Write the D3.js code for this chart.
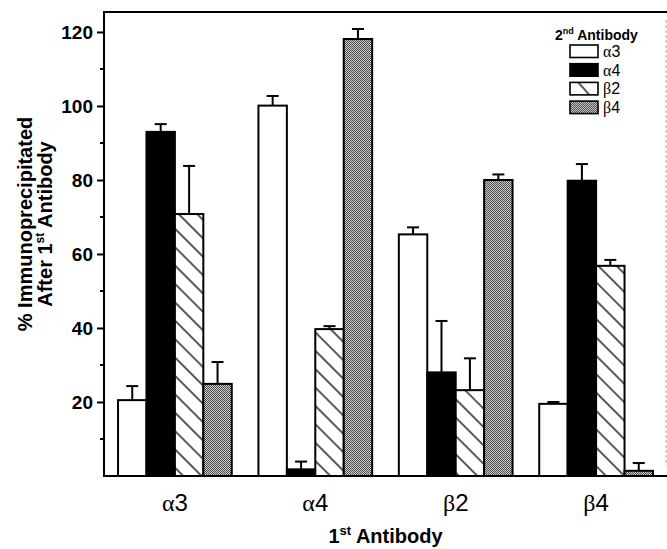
<!DOCTYPE html>
<html>
<head>
<meta charset="utf-8">
<script src="https://cdn.jsdelivr.net/npm/d3@7"></script>
<style>
  body { margin: 0; background: #fff; }
  svg { display: block; font-family: "Liberation Sans", Arial, sans-serif; }
</style>
</head>
<body>
<script>
// 1st antibody (groups) and 2nd antibody (series)
const categories = ["α3", "α4", "β2", "β4"];
const seriesNames = ["α3", "α4", "β2", "β4"];

// % immunoprecipitated, one array per 2nd antibody, in category order
const valuesA3 = [20.5, 100.1, 65.3, 19.5];
const valuesA4 = [93.0, 1.8, 28.0, 79.8];
const valuesB2 = [70.8, 39.7, 23.2, 56.8];
const valuesB4 = [24.9, 118.1, 80.0, 1.4];

// upper error bars
const errorsA3 = [3.8, 2.6, 1.9, 0.5];
const errorsA4 = [2.1, 2.1, 13.9, 4.5];
const errorsB2 = [13.0, 0.8, 8.6, 1.6];
const errorsB4 = [5.9, 2.7, 1.5, 2.1];

const majorTicks = [20, 40, 60, 80, 100, 120];
const minorTicks = [10, 30, 50, 70, 90, 110];

const width = 667,
    height = 549;

const plotLeft = 104, plotRight = 667, plotTop = 12, plotBottom = 476;

const seriesValues = [valuesA3, valuesA4, valuesB2, valuesB4];
const seriesErrors = [errorsA3, errorsA4, errorsB2, errorsB4];
const fills = ["#fff", "#000", "url(#hatch)", "url(#stipple)"];

// flatten into rows for drawing
const rows = [];
categories.forEach((c, i) => {
    seriesNames.forEach((s, j) => {
        rows.push({cat: c, series: s, idx: j, value: seriesValues[j][i], err: seriesErrors[j][i]});
    });
});

const svg = d3.select('body').append('svg')
    .attr('width', width)
    .attr('height', height);

//patterns
const defs = svg.append('defs');
const hatch = defs.append('pattern')
    .attr('id', 'hatch')
    .attr('patternUnits', 'userSpaceOnUse')
    .attr('width', 13)
    .attr('height', 13)
    .attr('patternTransform', 'rotate(-45)');
hatch.append('rect').attr('width', 13).attr('height', 13).attr('fill', '#fff');
hatch.append('line')
    .attr('x1', 1).attr('y1', 0).attr('x2', 1).attr('y2', 13)
    .attr('stroke', '#000').attr('stroke-width', 1.3);

const stipple = defs.append('pattern')
    .attr('id', 'stipple')
    .attr('patternUnits', 'userSpaceOnUse')
    .attr('width', 2)
    .attr('height', 2);
stipple.append('rect').attr('width', 2).attr('height', 2).attr('fill', '#cfcfcf');
stipple.append('rect').attr('x', 0).attr('y', 0).attr('width', 1).attr('height', 1).attr('fill', '#4a4a4a');
stipple.append('rect').attr('x', 1).attr('y', 1).attr('width', 1).attr('height', 1).attr('fill', '#4a4a4a');

const legendHatch = defs.append('pattern')
    .attr('id', 'hatchLegend')
    .attr('patternUnits', 'userSpaceOnUse')
    .attr('width', 15)
    .attr('height', 15)
    .attr('patternTransform', 'translate(572,0) rotate(-42)');
legendHatch.append('rect').attr('width', 15).attr('height', 15).attr('fill', '#fff');
legendHatch.append('line')
    .attr('x1', 1).attr('y1', 0).attr('x2', 1).attr('y2', 15)
    .attr('stroke', '#000').attr('stroke-width', 1.3);

//scales
const x0 = d3.scaleBand()
    .domain(categories)
    .range([plotLeft, plotRight])
    .paddingInner(0.19)
    .paddingOuter(0.1);

const x1 = d3.scaleBand()
    .domain(seriesNames)
    .range([0, x0.bandwidth()]);

const y = d3.scaleLinear()
    .domain([0, 125.4])
    .range([plotBottom, plotTop]);

//bars
svg.append('g').selectAll('rect')
    .data(rows)
    .enter()
    .append('rect')
    .attr('x', d => x0(d.cat) + x1(d.series))
    .attr('y', d => y(d.value))
    .attr('width', x1.bandwidth())
    .attr('height', d => y(0) - y(d.value))
    .attr('fill', d => fills[d.idx])
    .attr('stroke', '#000')
    .attr('stroke-width', 2);

//error bars
const eb = svg.append('g')
    .attr('stroke', '#000')
    .attr('stroke-width', 2);
eb.selectAll('line.stem')
    .data(rows)
    .enter()
    .append('line')
    .attr('class', 'stem')
    .attr('x1', d => x0(d.cat) + x1(d.series) + x1.bandwidth() / 2)
    .attr('x2', d => x0(d.cat) + x1(d.series) + x1.bandwidth() / 2)
    .attr('y1', d => y(d.value))
    .attr('y2', d => y(d.value + d.err));
eb.selectAll('line.cap')
    .data(rows)
    .enter()
    .append('line')
    .attr('class', 'cap')
    .attr('x1', d => x0(d.cat) + x1(d.series) + x1.bandwidth() / 2 - 6)
    .attr('x2', d => x0(d.cat) + x1(d.series) + x1.bandwidth() / 2 + 6)
    .attr('y1', d => y(d.value + d.err))
    .attr('y2', d => y(d.value + d.err));

//frame
svg.append('line')
    .attr('x1', plotLeft).attr('x2', plotRight).attr('y1', plotTop).attr('y2', plotTop)
    .attr('stroke', '#000').attr('stroke-width', 2);
svg.append('line')
    .attr('x1', plotLeft).attr('x2', plotRight).attr('y1', plotBottom).attr('y2', plotBottom)
    .attr('stroke', '#000').attr('stroke-width', 2);
svg.append('line')
    .attr('x1', plotRight - 1).attr('x2', plotRight - 1).attr('y1', plotTop + 8).attr('y2', plotBottom - 10)
    .attr('stroke', '#aaa').attr('stroke-width', 1)
    .attr('stroke-dasharray', '3,2');

//y axis
const yAxis = svg.append('g')
    .attr('transform', `translate(${plotLeft},0)`)
    .call(d3.axisLeft(y).tickValues(majorTicks).tickSize(7).tickPadding(4).tickSizeOuter(0));
yAxis.select('.domain').remove();
yAxis.selectAll('.tick line').attr('stroke-width', 2);
yAxis.selectAll('.tick text')
    .attr('font-family', '"Liberation Sans", Arial, sans-serif')
    .attr('font-size', 19)
    .attr('font-weight', 'bold')
    .attr('fill', '#000');
svg.append('g').selectAll('line')
    .data(minorTicks)
    .enter()
    .append('line')
    .attr('x1', plotLeft - 4).attr('x2', plotLeft)
    .attr('y1', d => y(d)).attr('y2', d => y(d))
    .attr('stroke', '#000').attr('stroke-width', 2);
svg.append('line')
    .attr('x1', plotLeft).attr('x2', plotLeft).attr('y1', plotTop - 1).attr('y2', plotBottom + 1)
    .attr('stroke', '#000').attr('stroke-width', 2);

//category labels
const catText = svg.append('g').selectAll('text')
    .data(categories)
    .enter()
    .append('text')
    .attr('x', d => x0(d) + x0.bandwidth() / 2)
    .attr('y', 511)
    .attr('text-anchor', 'middle')
    .attr('font-size', 24);
catText.append('tspan')
    .attr('font-family', '"Liberation Serif", "Times New Roman", serif')
    .text(d => d.charAt(0));
catText.append('tspan')
    .text(d => d.slice(1));

//x title
const xTitle = svg.append('text')
    .attr('x', (plotLeft + plotRight) / 2)
    .attr('y', 543)
    .attr('text-anchor', 'middle')
    .attr('font-size', 20)
    .attr('font-weight', 'bold');
xTitle.append('tspan').text('1');
xTitle.append('tspan').attr('font-size', 13).attr('dy', -8).text('st');
xTitle.append('tspan').attr('dy', 8).text(' Antibody');

//y title
const yTitle = svg.append('g')
    .attr('transform', 'translate(0,224) rotate(-90)')
    .attr('font-size', 20)
    .attr('font-weight', 'bold')
    .attr('text-anchor', 'middle');
yTitle.append('text')
    .attr('x', 0).attr('y', 32)
    .text('% Immunoprecipitated');
const yt2 = yTitle.append('text')
    .attr('x', 0).attr('y', 52);
yt2.append('tspan').text('After 1');
yt2.append('tspan').attr('font-size', 12).attr('dy', -8).text('st');
yt2.append('tspan').attr('dy', 8).text(' Antibody');

//legend
const legend = svg.append('g');
const lt = legend.append('text')
    .attr('x', 555).attr('y', 40)
    .attr('font-size', 14)
    .attr('font-weight', 'bold');
lt.append('tspan').text('2');
lt.append('tspan').attr('font-size', 9).attr('dy', -6).text('nd');
lt.append('tspan').attr('dy', 6).text(' Antibody');

const legendFills = ["#fff", "#000", "url(#hatchLegend)", "url(#stipple)"];
const items = legend.selectAll('g.item')
    .data(seriesNames)
    .enter()
    .append('g')
    .attr('class', 'item')
    .attr('transform', (d, i) => `translate(570,${45 + i * 18.7})`);
items.append('rect')
    .attr('width', 28)
    .attr('height', 12.5)
    .attr('fill', (d, i) => legendFills[i])
    .attr('stroke', '#000')
    .attr('stroke-width', 1.6);
const itemText = items.append('text')
    .attr('x', 33)
    .attr('y', 12)
    .attr('font-size', 16);
itemText.append('tspan')
    .attr('font-family', '"Liberation Serif", "Times New Roman", serif')
    .text(d => d.charAt(0));
itemText.append('tspan')
    .text(d => d.slice(1));
</script>
</body>
</html>
